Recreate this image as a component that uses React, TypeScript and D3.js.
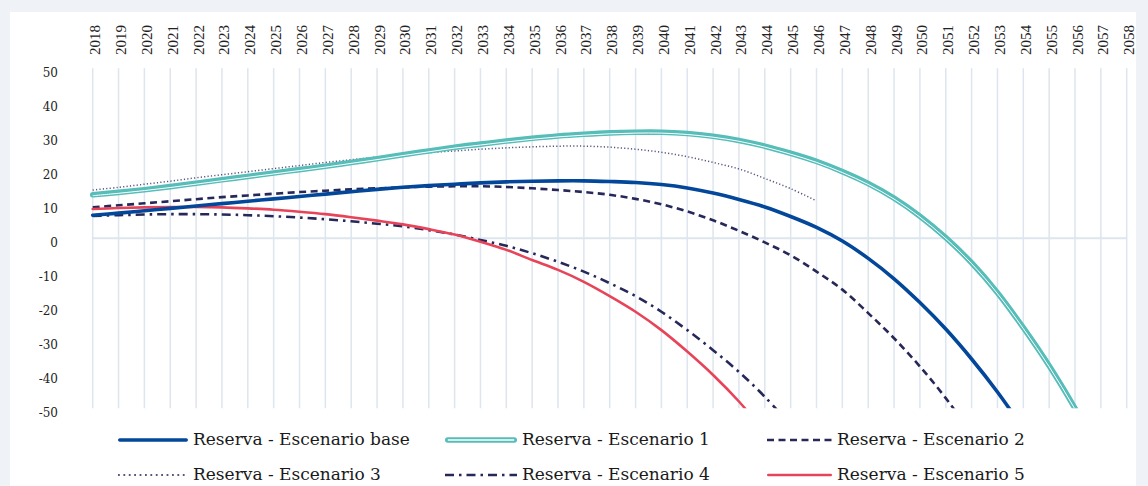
import React from "react";
import * as d3 from "d3";

const YEARS = [
  "2018","2019","2020","2021","2022","2023","2024","2025","2026","2027",
  "2028","2029","2030","2031","2032","2033","2034","2035","2036","2037",
  "2038","2039","2040","2041","2042","2043","2044","2045","2046","2047",
  "2048","2049","2050","2051","2052","2053","2054","2055","2056","2057","2058",
];

const Y_TICKS = [50, 40, 30, 20, 10, 0, -10, -20, -30, -40, -50];

// values from 2018 onwards; missing years are left out (undefined)
const BASE = [6.8,7.4,8.1,8.8,9.5,10.2,10.9,11.6,12.3,13.0,13.7,14.4,15.0,15.5,15.9,16.3,16.6,16.8,16.9,16.9,16.7,16.4,15.8,14.8,13.3,11.4,9.2,6.4,3.2,-0.8,-5.9,-11.9,-18.9,-26.7,-35.5,-45.2,-56.0];
const ESC1 = [12.8,13.5,14.3,15.2,16.2,17.2,18.2,19.2,20.2,21.2,22.3,23.4,24.6,25.7,26.8,27.7,28.6,29.4,30.1,30.6,31.0,31.2,31.2,30.8,30.0,28.8,27.1,25.0,22.6,19.6,16.1,11.8,6.5,0.2,-7.2,-16.0,-26.3,-37.5,-50.0,-63.5];
const ESC2 = [9.1,9.7,10.3,10.9,11.5,12.1,12.6,13.1,13.6,14.0,14.4,14.7,15.0,15.2,15.3,15.3,15.1,14.7,14.2,13.6,12.8,11.6,10.0,7.9,5.3,2.2,-1.2,-5.0,-9.8,-15.1,-22.0,-29.4,-37.7,-47.0,-57.5];
const ESC3 = [14.2,15.0,15.9,16.8,17.8,18.7,19.6,20.5,21.4,22.3,23.1,23.9,24.6,25.2,25.7,26.2,26.6,26.9,27.1,27.1,26.8,26.2,25.3,24.0,22.3,20.4,17.6,14.6,11.0];
const ESC4 = [6.6,6.8,7.0,7.1,7.1,7.0,6.8,6.5,6.1,5.6,5.0,4.3,3.5,2.4,1.1,-0.5,-2.2,-4.4,-6.9,-9.8,-13.2,-17.0,-21.6,-27.0,-32.9,-39.3,-46.6,-55.0];
const ESC5 = [8.6,8.9,9.1,9.2,9.2,9.1,8.8,8.4,7.8,7.1,6.2,5.2,4.1,2.7,1.1,-1.0,-3.4,-6.4,-9.3,-12.8,-17.0,-21.6,-27.0,-33.3,-40.2,-48.0,-57.0];

const NAMES = [
  "Reserva - Escenario base",
  "Reserva - Escenario 1",
  "Reserva - Escenario 2",
  "Reserva - Escenario 3",
  "Reserva - Escenario 4",
  "Reserva - Escenario 5",
];

const W = 1148;
const H = 486;

const COLORS = {
  base: "#03479a",
  esc1: "#56bdb9",
  esc2: "#27285a",
  esc3: "#55557f",
  esc4: "#27285a",
  esc5: "#e84459",
  grid: "#dde5ee",
};

type Style = {
  stroke: string;
  width: number;
  dash?: string;
  legendDash?: string;
  legendWidth?: number;
  cap?: "round" | "butt";
  double?: boolean;
};

const STYLES: Style[] = [
  { stroke: COLORS.base, width: 3.6, cap: "round" },
  { stroke: COLORS.esc1, width: 5.6, cap: "round", double: true },
  { stroke: COLORS.esc2, width: 2.6, dash: "7 4.5", cap: "butt" },
  { stroke: COLORS.esc3, width: 1.5, dash: "1.2 2.2", legendDash: "1.8 3.6", legendWidth: 2, cap: "butt" },
  { stroke: COLORS.esc4, width: 2.6, dash: "9 5 2.5 5", cap: "butt" },
  { stroke: COLORS.esc5, width: 2.6, cap: "round" },
];

const SERIES = [BASE, ESC1, ESC2, ESC3, ESC4, ESC5];

export default function App() {
  const x = d3.scalePoint<string>().domain(YEARS).range([92.7, 1126.7]);
  const y = d3.scaleLinear().domain([-50, 50]).range([408.3, 68.3]);

  const line = d3
    .line<number | undefined>()
    .defined((d) => d !== undefined && d !== null)
    .x((_, i) => x(YEARS[i]) as number)
    .y((d) => y(d as number))
    .curve(d3.curveCatmullRom.alpha(0.5));

  const paths = SERIES.map((s) => line(YEARS.map((_, i) => s[i])) || "");

  const order = [3, 1, 2, 4, 5, 0];

  const legendCols = [118, 445, 767];
  const legendRows = [440, 475];
  const swatchLen = [70, 72, 65];

  const serif = "'DejaVu Serif', serif";
  const axisFont = "'Liberation Serif', 'Times New Roman', serif";

  return (
    <svg
      width={W}
      height={H}
      style={{ position: "absolute", left: 0, top: 0, display: "block" }}
    >
      <rect x={0} y={0} width={W} height={H} fill="#eff3f7" />
      <rect x={10} y={12} width={1126} height={H - 12} fill="#ffffff" />
      <defs>
        <clipPath id="plot">
          <rect x={80} y={60} width={1060} height={408.3 - 60} />
        </clipPath>
      </defs>

      {YEARS.map((yr) => (
        <line
          key={"g" + yr}
          x1={x(yr)}
          x2={x(yr)}
          y1={y(50)}
          y2={y(-50)}
          stroke={COLORS.grid}
          strokeWidth={1.5}
        />
      ))}
      <line
        x1={x(YEARS[0])}
        x2={x(YEARS[YEARS.length - 1])}
        y1={y(0)}
        y2={y(0)}
        stroke={COLORS.grid}
        strokeWidth={2}
      />

      {YEARS.map((yr) => (
        <text
          key={"t" + yr}
          transform={`translate(${(x(yr) as number) + 7.5},55) rotate(-90)`}
          textAnchor="start"
          fontFamily={axisFont}
          fontSize={15}
          fill="#222"
        >
          {yr}
        </text>
      ))}

      {Y_TICKS.map((v) => (
        <text
          key={"y" + v}
          x={58}
          y={y(v) + 4.7}
          textAnchor="end"
          dominantBaseline="middle"
          fontFamily={serif}
          fontSize={12}
          fill="#222"
        >
          {v}
        </text>
      ))}

      <g clipPath="url(#plot)">
        {order.map((i) => {
          const st = STYLES[i];
          return (
            <g key={"s" + i}>
              <path
                d={paths[i]}
                fill="none"
                stroke={st.stroke}
                strokeWidth={st.width}
                strokeDasharray={st.dash}
                strokeLinecap={st.cap}
                strokeLinejoin="round"
              />
              {st.double && (
                <path
                  d={paths[i]}
                  fill="none"
                  stroke="#ffffff"
                  strokeWidth={1.0}
                  transform="translate(0,0.9)"
                />
              )}
            </g>
          );
        })}
      </g>

      {NAMES.map((name, i) => {
        const col = i % 3;
        const row = Math.floor(i / 3);
        const x0 = legendCols[col];
        const yy = legendRows[row];
        const st = STYLES[i];
        const len = swatchLen[col];
        const capInset = st.cap === "round" ? st.width / 2 : 0;
        return (
          <g key={"l" + i}>
            <line
              x1={x0 + capInset}
              x2={x0 + len - capInset}
              y1={yy}
              y2={yy}
              stroke={st.stroke}
              strokeWidth={st.legendWidth ?? st.width}
              strokeDasharray={st.legendDash ?? st.dash}
              strokeLinecap={st.cap}
            />
            {st.double && (
              <line
                x1={x0 + capInset}
                x2={x0 + len - capInset}
                y1={yy}
                y2={yy}
                stroke="#ffffff"
                strokeWidth={1.4}
              />
            )}
            <text
              x={x0 + len + 5}
              y={yy}
              dominantBaseline="middle"
              fontFamily={serif}
              fontSize={17}
              fill="#1a1a1a"
            >
              {name}
            </text>
          </g>
        );
      })}
    </svg>
  );
}
